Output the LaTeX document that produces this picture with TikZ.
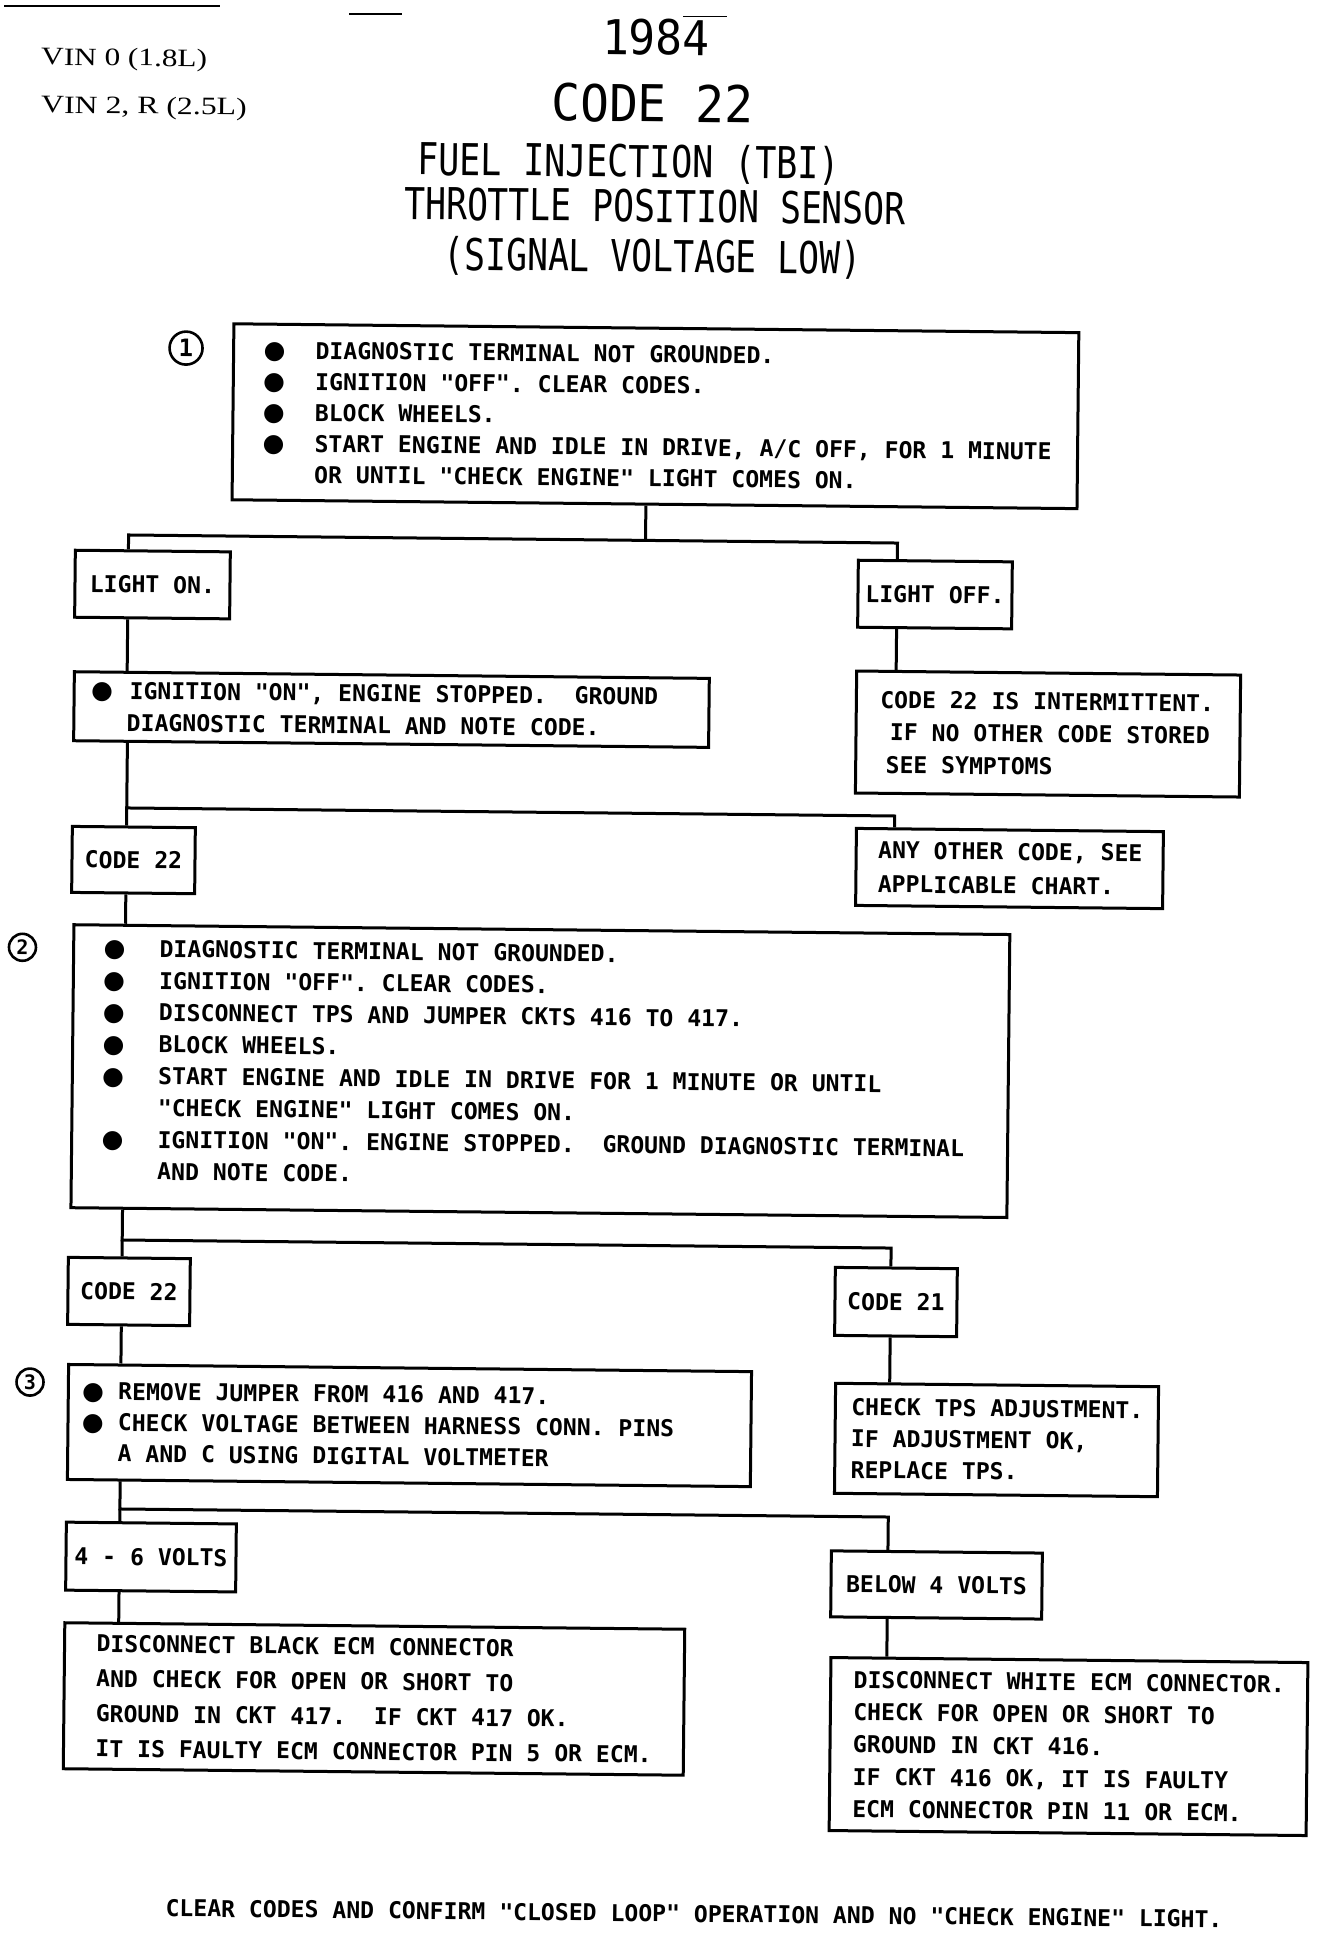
\documentclass[tikz,border=0pt]{standalone}
\usepackage{fontspec}
\usepackage{graphicx}
\newfontfamily\mono{DejaVu Sans Mono}
\newfontfamily\bulf{DejaVu Sans}
\newfontfamily\serf{Liberation Serif}
\frenchspacing
\newcommand\bu[1]{\makebox[#1][l]{\bulf\fontsize{25}{25}\selectfont ●}}
\newcommand\ind[1]{\hspace*{#1}}
\newcommand\ml[1]{\mbox{\spaceskip=0pt\xspaceskip=0pt\relax #1}}
\begin{document}
\begin{tikzpicture}[x=1pt,y=-1pt,
  box/.style={draw, line width=3pt, inner ysep=0pt, anchor=center},
  lbl/.style={box, font=\mono\bfseries\fontsize{23.1}{23.1}\selectfont, inner xsep=0pt},
  tb/.style={box, align=left, font=\mono\bfseries\fontsize{23.1}{#1}\selectfont},
  conn/.style={line width=3pt},
  num/.style={circle, draw, line width=2.6pt, inner sep=0pt, font=\mono\bfseries\fontsize{24}{24}\selectfont},
  ttl/.style={inner sep=0pt, anchor=base},
  vin/.style={inner sep=0pt, anchor=base west, font=\serf\fontsize{25}{25}\selectfont}]
\useasboundingbox (0,0) rectangle (1328,1948);
\fill[white] (0,0) rectangle (1328,1948);
% scan specks at the top
\draw[line width=2.5pt] (4,6) -- (90,6);
\draw[line width=1.5pt] (90,6) -- (220,6);
\draw[line width=1.5pt] (349,14) -- (402,14);
\draw[line width=1pt] (683,17) -- (727,17);
\begin{scope}[rotate around={-0.6:(664,974)}, transform shape]
% titles
\node[vin] (vin1) at (31.5,71.5) {\scalebox{1.25}[1]{VIN 0 (1.8L)}};
\node[vin] (vin2) at (32,119.5) {\scalebox{1.27}[1]{VIN 2, R (2.5L)}};
\node[inner sep=0pt] (yr) at (646.2,37.6) {\scalebox{0.93}[1]{\mono\fontsize{48}{48}\selectfont 1984}};
\node[inner sep=0pt] (code) at (643.4,103.6) {\scalebox{0.94}[1]{\mono\fontsize{50.8}{50.8}\selectfont CODE 22}};
\node[ttl] (t1) at (620.4,177.4) {\scalebox{0.80}[1]{\mono\fontsize{43.9}{43.9}\selectfont FUEL INJECTION (TBI)}};
\node[ttl] (t2) at (647.1,222.1) {\scalebox{0.79}[1]{\mono\fontsize{43.9}{43.9}\selectfont THROTTLE POSITION SENSOR}};
\node[ttl] (t3) at (645.1,272.1) {\scalebox{0.79}[1]{\mono\fontsize{43.9}{43.9}\selectfont (SIGNAL VOLTAGE LOW)}};
% step numbers
\node[num, minimum size=33pt] (n1) at (179.5,353.1) {1};
\node[num, minimum size=27pt, font=\mono\bfseries\fontsize{20}{20}\selectfont] (n2) at (22.2,954) {2};
\node[num, minimum size=27pt, font=\mono\bfseries\fontsize{20}{20}\selectfont] (n3) at (34.3,1388.7) {3};
% boxes
\node[tb=31, minimum width=845pt, minimum height=176pt, inner xsep=30pt, text width=785pt] (b1) at (649.6,416.3)
 {\ml{\bu{52pt}DIAGNOSTIC TERMINAL NOT GROUNDED.}\\
  \ml{\bu{52pt}IGNITION "OFF". CLEAR CODES.}\\
  \ml{\bu{52pt}BLOCK WHEELS.}\\
  \ml{\bu{52pt}START ENGINE AND IDLE IN DRIVE, A/C OFF, FOR 1 MINUTE}\\
  \ml{\ind{52pt}OR UNTIL "CHECK ENGINE" LIGHT COMES ON.}};
\node[lbl, minimum width=155pt, minimum height=67pt] (lon) at (148.4,589.9) {LIGHT ON.};
\node[lbl, minimum width=154pt, minimum height=67pt] (loff) at (931.0,591.7) {LIGHT OFF.};
\node[tb=32, minimum width=635pt, minimum height=69pt, inner xsep=17pt, text width=601pt] (ign) at (388.7,712.4)
 {\ml{\bu{38.6pt}IGNITION "ON", ENGINE STOPPED.\ \ GROUND}\\
  \ml{\ind{36pt}DIAGNOSTIC TERMINAL AND NOTE CODE.}};
\node[tb=32.5, minimum width=384pt, minimum height=122pt, inner xsep=24pt, text width=336pt] (intm) at (1045.5,730.0)
 {\ml{CODE 22 IS INTERMITTENT.}\\
  \ml{\ind{10pt}IF NO OTHER CODE STORED}\\
  \ml{\ind{6pt}SEE SYMPTOMS}};
\node[lbl, minimum width=123pt, minimum height=66pt] (c22a) at (132.3,865.6) {CODE 22};
\node[tb=34, minimum width=307pt, minimum height=77pt, inner xsep=22pt, text width=263pt] (anyo) at (1008.4,864.9)
 {\ml{ANY OTHER CODE, SEE}\\
  \ml{APPLICABLE CHART.}};
\node[tb=31.8, minimum width=936pt, minimum height=283pt, inner xsep=30pt, text width=876pt] (b2) at (541.4,1072.4)
 {\ml{\bu{56pt}DIAGNOSTIC TERMINAL NOT GROUNDED.}\\
  \ml{\bu{56pt}IGNITION "OFF". CLEAR CODES.}\\
  \ml{\bu{56pt}DISCONNECT TPS AND JUMPER CKTS 416 TO 417.}\\
  \ml{\bu{56pt}BLOCK WHEELS.}\\
  \ml{\bu{56pt}START ENGINE AND IDLE IN DRIVE FOR 1 MINUTE OR UNTIL}\\
  \ml{\ind{56pt}"CHECK ENGINE" LIGHT COMES ON.}\\
  \ml{\bu{56pt}IGNITION "ON". ENGINE STOPPED.\ \ GROUND DIAGNOSTIC TERMINAL}\\
  \ml{\ind{56pt}AND NOTE CODE.\rule[-14pt]{0pt}{0pt}}};
\node[lbl, minimum width=122pt, minimum height=67pt] (c22b) at (132.3,1297.1) {CODE 22};
\node[lbl, minimum width=122pt, minimum height=68pt] (c21) at (899.4,1299.6) {CODE 21};
\node[tb=31, minimum width=683pt, minimum height=115pt, inner xsep=14pt, text width=655pt] (b3) at (414.2,1428.2)
 {\ml{\bu{36pt}REMOVE JUMPER FROM 416 AND 417.}\\
  \ml{\bu{36pt}CHECK VOLTAGE BETWEEN HARNESS CONN. PINS}\\
  \ml{\ind{36pt}A AND C USING DIGITAL VOLTMETER}};
\node[tb=31.5, minimum width=323pt, minimum height=110pt, inner xsep=16pt, text width=291pt] (tps) at (1001.4,1436.5)
 {\ml{CHECK TPS ADJUSTMENT.}\\
  \ml{IF ADJUSTMENT OK,}\\
  \ml{REPLACE TPS.}};
\node[lbl, minimum width=170pt, minimum height=68pt] (v46) at (157.1,1562.4) {4 - 6 VOLTS};
\node[lbl, minimum width=211pt, minimum height=66pt] (blw) at (942.9,1582.1) {BELOW 4 VOLTS};
\node[tb=35, minimum width=620pt, minimum height=146pt, inner xsep=32pt, text width=556pt] (blk) at (381.6,1702.0)
 {\ml{DISCONNECT BLACK ECM CONNECTOR}\\
  \ml{AND CHECK FOR OPEN OR SHORT TO}\\
  \ml{GROUND IN CKT 417.\ \ IF CKT 417 OK.}\\
  \ml{IT IS FAULTY ECM CONNECTOR PIN 5 OR ECM.}};
\node[tb=32.3, minimum width=477pt, minimum height=173pt, inner xsep=23pt, text width=431pt] (wht) at (1076.6,1742.3)
 {\ml{DISCONNECT WHITE ECM CONNECTOR.}\\
  \ml{CHECK FOR OPEN OR SHORT TO}\\
  \ml{GROUND IN CKT 416.}\\
  \ml{IF CKT 416 OK, IT IS FAULTY}\\
  \ml{ECM CONNECTOR PIN 11 OR ECM.}};
\node[ttl, font=\mono\bfseries\fontsize{23.1}{23.1}\selectfont] (clr) at (703.9,1921.7)
 {CLEAR CODES AND CONFIRM "CLOSED LOOP" OPERATION AND NO "CHECK ENGINE" LIGHT.};
% junctions
\coordinate (j1) at (641,540.6);
\coordinate (tl1) at (124,540.6);
\coordinate (tr1) at (893,540.6);
\coordinate (tl2) at (125,813.6);
\coordinate (tr2) at (893,813.6);
\coordinate (tl3) at (125,1245.7);
\coordinate (tr3) at (894,1245.7);
\coordinate (tl4) at (125.5,1514.7);
\coordinate (tr4) at (894,1514.7);
% connectors
\draw[conn] (j1 |- b1.south) -- (j1);
\draw[conn] (lon.north -| tl1) -- (tl1) -- (tr1) -- (loff.north -| tr1);
\draw[conn] (lon.south -| tl1) -- (ign.north -| tl1);
\draw[conn] (loff.south -| tr1) -- (intm.north -| tr1);
\draw[conn] (ign.south -| tl2) -- (tl2) -- (tr2) -- (anyo.north -| tr2);
\draw[conn] (tl2) -- (c22a.north -| tl2);
\draw[conn] (c22a.south -| tl2) -- (b2.north -| tl2);
\draw[conn] (b2.south -| tl3) -- (tl3) -- (tr3) -- (c21.north -| tr3);
\draw[conn] (tl3) -- (c22b.north -| tl3);
\draw[conn] (c22b.south -| tl3) -- (b3.north -| tl3);
\draw[conn] (c21.south -| tr3) -- (tps.north -| tr3);
\draw[conn] (b3.south -| tl4) -- (tl4) -- (tr4) -- (blw.north -| tr4);
\draw[conn] (tl4) -- (v46.north -| tl4);
\draw[conn] (v46.south -| tl4) -- (blk.north -| tl4);
\draw[conn] (blw.south -| tr4) -- (wht.north -| tr4);
\end{scope}
\end{tikzpicture}
\end{document}
